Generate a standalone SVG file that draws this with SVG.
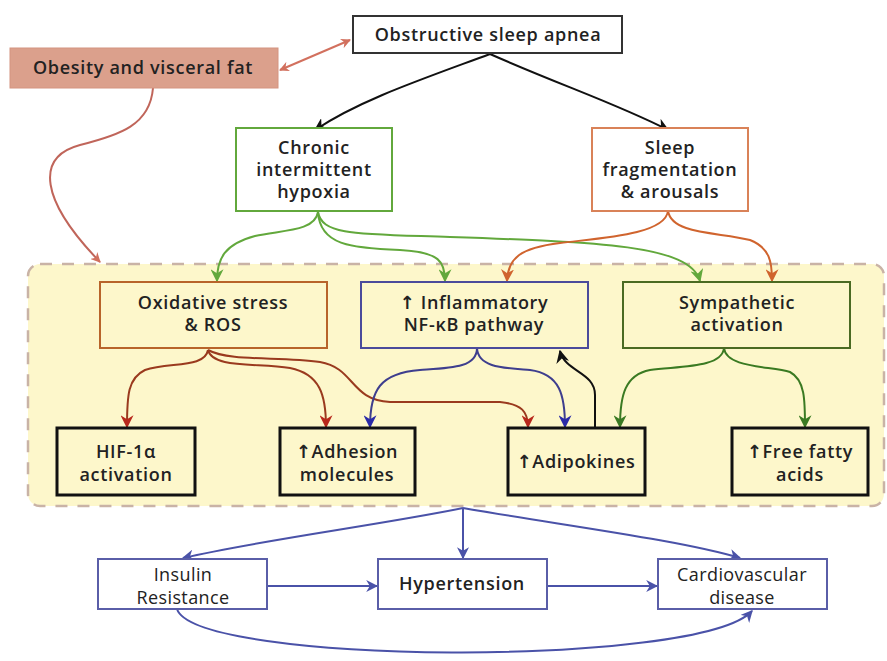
<svg xmlns="http://www.w3.org/2000/svg" width="887" height="661" viewBox="0 0 887 661">
<style>
text{font-family:"Open Sans","Noto Sans","DejaVu Sans",sans-serif;font-size:18px;font-weight:600;letter-spacing:0.7px;fill:#222;text-anchor:middle;}
.lt{font-weight:500;letter-spacing:0.4px;}
.box{fill:#fff;stroke-width:2;}
.yb{fill:#fdf7cb;stroke-width:2;}
.bk{fill:#fdf7cb;stroke:#111;stroke-width:3;}
.bl{fill:#fff;stroke:#5a5ea8;stroke-width:2;}
.e{fill:none;stroke-width:2;}
</style>
<defs>
<marker id="ms" viewBox="0 0 10 10" refX="9" refY="5" markerWidth="10" markerHeight="10" orient="auto-start-reverse" markerUnits="userSpaceOnUse"><path d="M0,0L10,5L0,10L3,5z" fill="#d2705e"/></marker>
<marker id="mg" viewBox="0 0 10 10" refX="9" refY="5" markerWidth="13" markerHeight="13" orient="auto" markerUnits="userSpaceOnUse"><path d="M0,0L10,5L0,10L3,5z" fill="#62a83c"/></marker>
<marker id="mo" viewBox="0 0 10 10" refX="9" refY="5" markerWidth="13" markerHeight="13" orient="auto" markerUnits="userSpaceOnUse"><path d="M0,0L10,5L0,10L3,5z" fill="#d0642e"/></marker>
<marker id="mr" viewBox="0 0 10 10" refX="9" refY="5" markerWidth="13" markerHeight="13" orient="auto" markerUnits="userSpaceOnUse"><path d="M0,0L10,5L0,10L3,5z" fill="#b8281c"/></marker>
<marker id="mb" viewBox="0 0 10 10" refX="9" refY="5" markerWidth="13" markerHeight="13" orient="auto" markerUnits="userSpaceOnUse"><path d="M0,0L10,5L0,10L3,5z" fill="#2a2aa8"/></marker>
<marker id="md" viewBox="0 0 10 10" refX="9" refY="5" markerWidth="13" markerHeight="13" orient="auto" markerUnits="userSpaceOnUse"><path d="M0,0L10,5L0,10L3,5z" fill="#3a7a22"/></marker>
<marker id="mk2" viewBox="0 0 10 10" refX="9" refY="5" markerWidth="13" markerHeight="13" orient="auto" markerUnits="userSpaceOnUse"><path d="M0,0L10,5L0,10L3,5z" fill="#111"/></marker>
<marker id="mu" viewBox="0 0 10 10" refX="9" refY="5" markerWidth="12" markerHeight="12" orient="auto" markerUnits="userSpaceOnUse"><path d="M0,0L10,5L0,10L3,5z" fill="#4a52a8"/></marker>
</defs>
<rect width="887" height="661" fill="#fff"/>
<rect id="container" x="28" y="264" width="856" height="242" rx="12" fill="#fdf7cb" stroke="#c9b3a6" stroke-width="2.5" stroke-dasharray="12,10"/>

<g id="connectors">
<path class="e" d="M280,70 L350,40" stroke="#d2705e" marker-start="url(#ms)" marker-end="url(#ms)"/>
<path class="e" d="M153,88 C150,125 120,135 80,145 C35,157 40,200 100,262" stroke="#c0655a" marker-end="url(#ms)"/>
<path class="e" d="M490,54 C420,80 360,100 315,130" stroke="#111" marker-end="url(#mk2)"/>
<path class="e" d="M490,54 C560,85 620,105 668,130" stroke="#111" marker-end="url(#mk2)"/>
<path class="e" d="M318,212 C315,232 280,230 255,236 C225,244 217,258 217,281" stroke="#62a83c" marker-end="url(#mg)"/>
<path class="e" d="M318,212 C320,245 350,248 400,250 C440,252 445,262 445,281" stroke="#62a83c" marker-end="url(#mg)"/>
<path class="e" d="M318,212 C322,236 360,234 450,237 C600,242 690,245 700,281" stroke="#62a83c" marker-end="url(#mg)"/>
<path class="e" d="M668,211 C665,235 600,238 560,243 C520,248 508,258 507,281" stroke="#d0642e" marker-end="url(#mo)"/>
<path class="e" d="M668,211 C672,235 720,232 750,240 C770,248 772,262 772,281" stroke="#d0642e" marker-end="url(#mo)"/>
<path class="e" d="M208,350 C205,368 170,362 145,370 C128,378 127,395 127,427" stroke="#9a3a1e" marker-end="url(#mr)"/>
<path class="e" d="M208,350 C212,368 255,363 290,368 C320,374 326,395 326,427" stroke="#9a3a1e" marker-end="url(#mr)"/>
<path class="e" d="M208,350 C230,362 280,356 320,362 C355,368 350,400 390,402 L500,402 C522,404 528,412 528,427" stroke="#9a3a1e" marker-end="url(#mr)"/>
<path class="e" d="M477,348 C477,368 450,368 420,370 C380,373 370,390 370,427" stroke="#3e3e8e" marker-end="url(#mb)"/>
<path class="e" d="M477,348 C478,368 505,368 530,370 C560,374 565,395 565,427" stroke="#3e3e8e" marker-end="url(#mb)"/>
<path class="e" d="M595,428 L595,395 C595,372 565,372 560,351" stroke="#111" stroke-width="2.5" marker-end="url(#mk2)"/>
<path class="e" d="M724,348 C722,368 680,366 650,370 C625,375 620,395 620,427" stroke="#3a7a22" marker-end="url(#md)"/>
<path class="e" d="M724,348 C726,368 770,366 790,372 C805,380 805,400 805,427" stroke="#3a7a22" marker-end="url(#md)"/>
<path class="e" d="M463,508 C380,525 260,540 183,558" stroke="#4a52a8" marker-end="url(#mu)"/>
<path class="e" d="M463,508 L463,558" stroke="#4a52a8" marker-end="url(#mu)"/>
<path class="e" d="M463,508 C560,525 680,540 740,558" stroke="#4a52a8" marker-end="url(#mu)"/>
<path class="e" d="M267,586 L377,586" stroke="#4a52a8" marker-end="url(#mu)"/>
<path class="e" d="M547,586 L657,586" stroke="#4a52a8" marker-end="url(#mu)"/>
<path class="e" d="M177,609 C195,665 700,668 752,611" stroke="#4a52a8" marker-end="url(#mu)"/>
</g>

<g id="osa"><rect class="box" x="353" y="16" width="269" height="37" stroke="#333"/><text x="488" y="41">Obstructive sleep apnea</text></g>
<g id="obesity"><rect x="10" y="48" width="268" height="40" fill="#dba08c" stroke="#d49480" stroke-width="1"/><text x="143" y="74">Obesity and visceral fat</text></g>
<g id="chronic"><rect class="box" x="236" y="128" width="156" height="83" stroke="#62a83c"/><text x="314" y="154">Chronic</text><text x="314" y="176">intermittent</text><text x="314" y="198">hypoxia</text></g>
<g id="sleep"><rect class="box" x="592" y="128" width="156" height="83" stroke="#d98258"/><text x="670" y="154">Sleep</text><text x="670" y="176">fragmentation</text><text x="670" y="198">&amp; arousals</text></g>
<g id="oxidative"><rect class="yb" x="100" y="282" width="227" height="66" stroke="#b8642a"/><text x="213" y="309">Oxidative stress</text><text x="213" y="331">&amp; ROS</text></g>
<g id="inflammatory"><rect class="yb" x="361" y="282" width="227" height="66" stroke="#4b4b9b"/><text x="474" y="309">↑ Inflammatory</text><text x="474" y="331">NF-κB pathway</text></g>
<g id="sympathetic"><rect class="yb" x="623" y="282" width="227" height="66" stroke="#4a6a22"/><text x="737" y="309">Sympathetic</text><text x="737" y="331">activation</text></g>
<g id="hif"><rect class="bk" x="57" y="428" width="138" height="67"/><text x="126" y="458">HIF-1α</text><text x="126" y="481">activation</text></g>
<g id="adhesion"><rect class="bk" x="280" y="428" width="135" height="67"/><text x="347" y="458">↑Adhesion</text><text x="347" y="481">molecules</text></g>
<g id="adipokines"><rect class="bk" x="508" y="428" width="137" height="67"/><text x="576" y="468">↑Adipokines</text></g>
<g id="ffa"><rect class="bk" x="732" y="428" width="136" height="67"/><text x="800" y="458">↑Free fatty</text><text x="800" y="481">acids</text></g>
<g id="insulin"><rect class="bl" x="98" y="559" width="169" height="50"/><text class="lt" x="183" y="581">Insulin</text><text class="lt" x="183" y="604">Resistance</text></g>
<g id="hypertension"><rect class="bl" x="378" y="559" width="169" height="50"/><text x="462" y="590">Hypertension</text></g>
<g id="cardio"><rect class="bl" x="658" y="559" width="169" height="50"/><text class="lt" x="742" y="581">Cardiovascular</text><text class="lt" x="742" y="604">disease</text></g>
</svg>
